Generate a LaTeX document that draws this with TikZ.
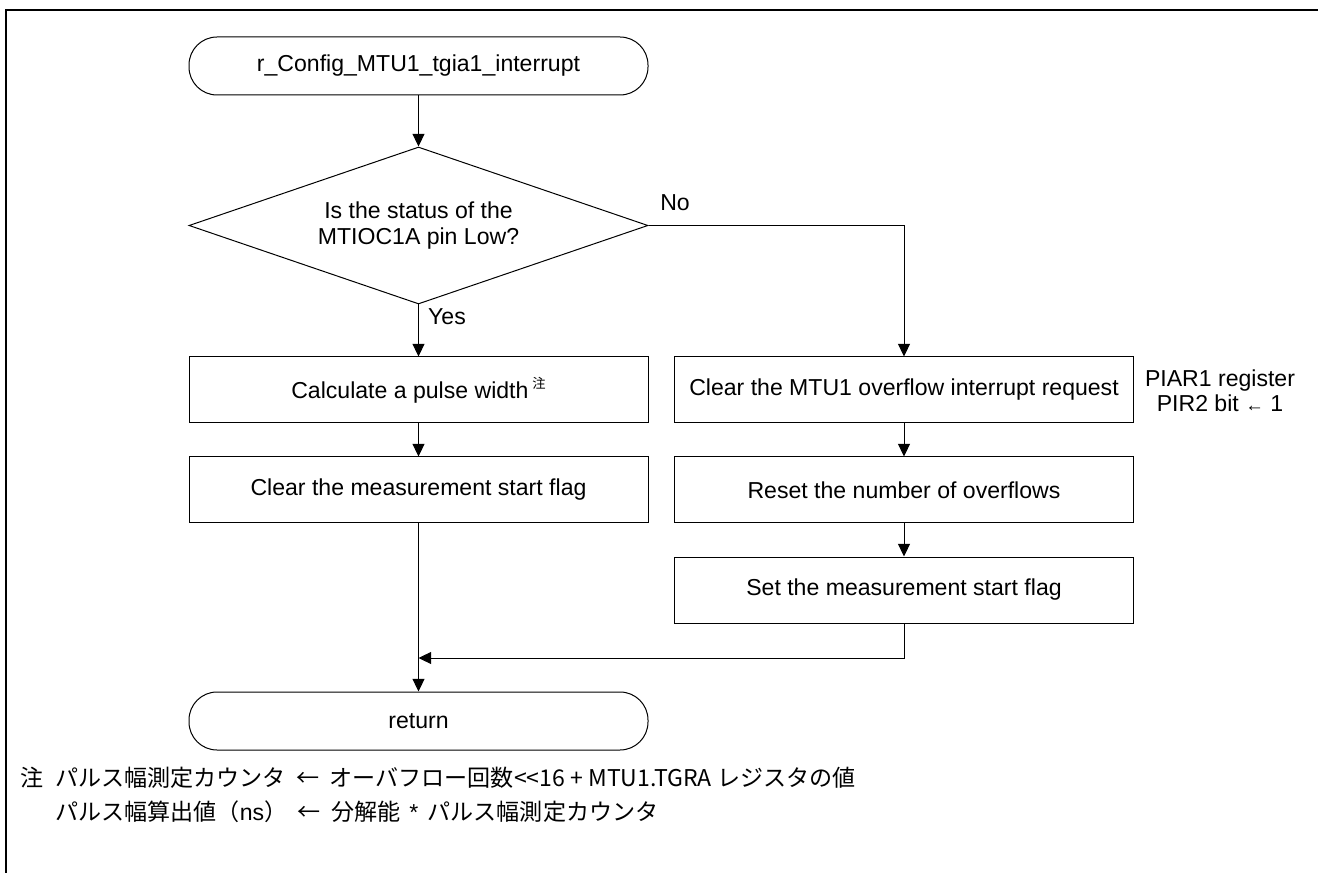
\documentclass[tikz,border=0pt]{standalone}
\usepackage{fontspec}
\setmainfont{Liberation Sans}
\newfontfamily\lat{Liberation Sans}
\newfontfamily\cjk{Noto Sans CJK JP}
\usetikzlibrary{shapes.geometric,arrows.meta}
\begin{document}
\begin{tikzpicture}[x=0.75pt,y=-0.75pt,
  every node/.style={font=\fontsize{17.3}{19}\selectfont},
  proc/.style={draw, line width=0.75pt, minimum width=344.25pt, minimum height=49.5pt, inner sep=0pt},
  term/.style={proc, minimum height=43.5pt, rounded corners=21pt},
  dec/.style={draw, diamond, aspect=2.92, line width=0.75pt, minimum width=344.25pt, minimum height=117.75pt, inner sep=0pt, align=center},
  flow/.style={line width=0.75pt, -{Triangle[length=9.5pt,width=9pt]}},
  lbl/.style={inner sep=0pt},
  note/.style={inner sep=0pt, anchor=west, font=\cjk\fontsize{17.3}{17.3}\selectfont}
]
\useasboundingbox (0,0) rectangle (1318,873);
\draw[line width=1.6pt] (6,873) -- (6,10) -- (1318,10);

\node[term] (start) at (418.5,66) {r\_Config\_MTU1\_tgia1\_interrupt};
\node[dec] (cond) at (418.5,225.5) {Is the status of the\\MTIOC1A pin Low?};
\node[proc] (calc) at (418.5,390) {Calculate a pulse width\,\raisebox{0.8ex}{\cjk\fontsize{10}{10}\selectfont 注}};
\node[proc] (clr) at (418.5,490) {Clear the measurement start flag};
\node[proc] (ovf) at (904,390) {Clear the MTU1 overflow interrupt request};
\node[proc] (rst) at (904,490) {Reset the number of overflows};
\node[proc] (set) at (904,590) {Set the measurement start flag};
\node[term] (ret) at (418.5,721) {return};
\node[lbl, align=center, font=\fontsize{17.3}{18.5}\selectfont] (piar) at (1220,391) {PIAR1 register\\PIR2 bit {\fontsize{14}{14}\selectfont ←} 1};

\node[lbl] (no) at (675,203) {No};
\node[lbl] (yes) at (447,317) {Yes};

\coordinate (merge) at (418.5,658);
\draw[flow] (start) -- (cond);
\draw[flow] (cond) -- (calc);
\draw[flow] (calc) -- (clr);
\draw[flow] (clr) -- (ret);
\draw[flow] (cond.east) -| (ovf.north);
\draw[flow] (ovf) -- (rst);
\draw[flow] (rst) -- (set);
\draw[flow] (set.south) |- (merge);

\node[note] (chu) at (20,778) {注};
\node[note] (n1) at (55,778) {パルス幅測定カウンタ\hspace{0.45em}←\hspace{0.45em}オーバフロー回数\textless\textless16 + MTU1.TGRA レジスタの値};
\node[note] (n2) at (55,812) {パルス幅算出値（{\lat ns}）\hspace{0.45em}←\hspace{0.45em}分解能\hspace{0.4em}{\lat *}\hspace{0.4em}パルス幅測定カウンタ};
\end{tikzpicture}
\end{document}
